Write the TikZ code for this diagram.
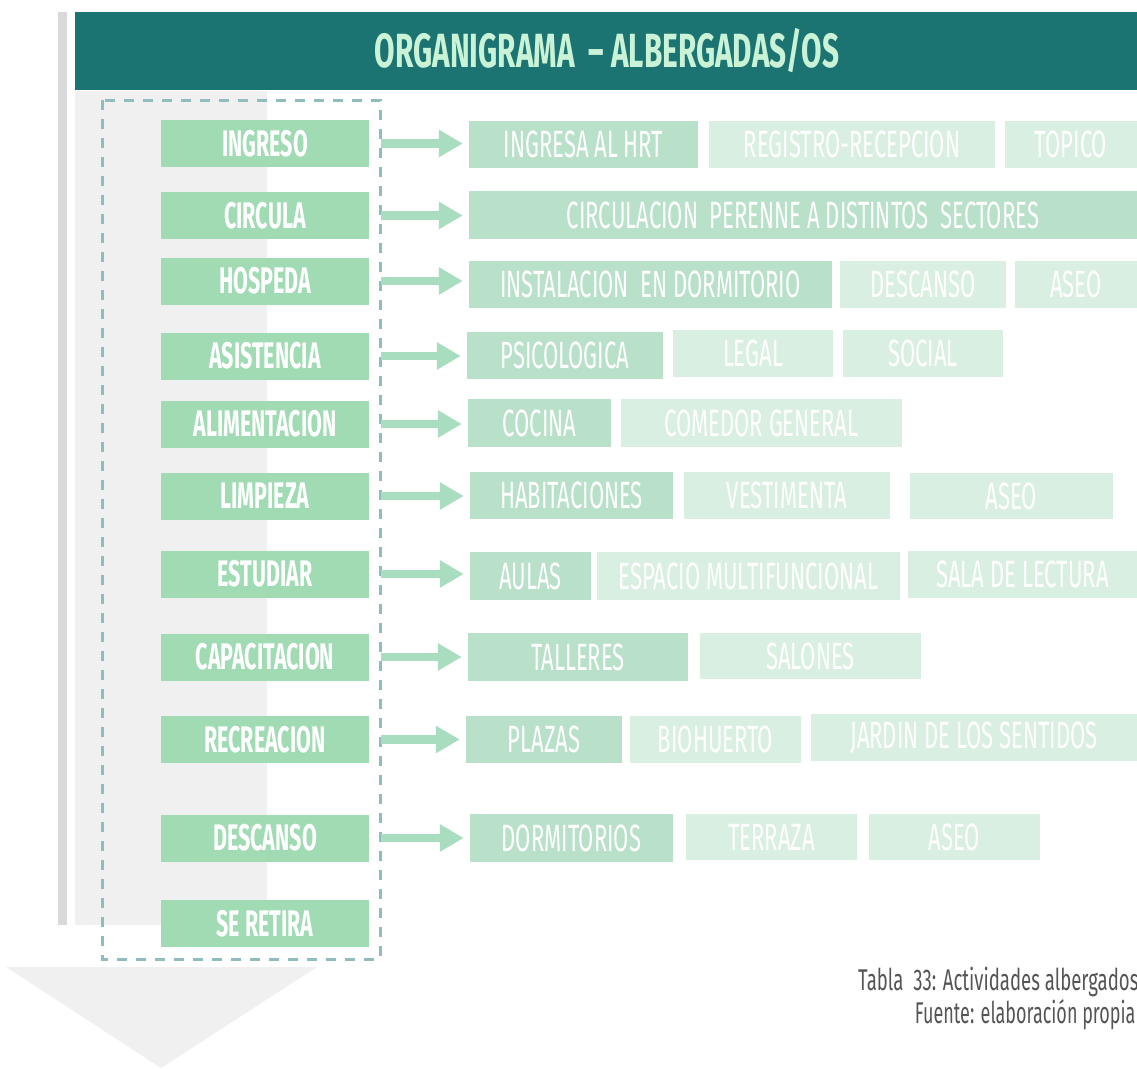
\documentclass[tikz,border=0pt]{standalone}
\usepackage{fontspec}
\setmainfont{Fira Sans}
\usepackage{graphicx}
\usepackage{xcolor}
\usetikzlibrary{arrows.meta}

\definecolor{cabecera}{HTML}{1C7472}
\definecolor{titulo}{HTML}{C9F2D7}
\definecolor{verdeact}{HTML}{A0DBB4}
\definecolor{verdeuno}{HTML}{B9E0C9}
\definecolor{verdedos}{HTML}{D9EFE1}
\definecolor{flechaverde}{HTML}{A9DDBF}
\definecolor{guion}{HTML}{8FBDBD}
\definecolor{barra}{HTML}{D9D9D9}
\definecolor{panel}{HTML}{F0F0F0}
\definecolor{leyenda}{HTML}{555555}

\newcommand{\cond}[1]{\scalebox{0.58}[1]{#1}}

\begin{document}
\begin{tikzpicture}[x=1pt, y=-1pt,
    actividad/.style={fill=verdeact, text=white, inner sep=0pt, minimum width=208pt, minimum height=47pt, font=\fontsize{37}{40}\selectfont\bfseries},
    principal/.style={fill=verdeuno, text=white, inner sep=0pt, minimum height=47pt, font=\fontsize{38}{42}\selectfont},
    secundaria/.style={principal, fill=verdedos},
    flecha/.style={draw=flechaverde, line width=8.5pt, -{Triangle[length=24pt, width=26pt]}}]
    \useasboundingbox (0,0) rectangle (1137,1068);

    % Fondo: barra, panel y cabecera
    \fill[barra] (58,12) rectangle (67,925);
    \fill[panel] (75,91) rectangle (267,925);
    \fill[cabecera] (75,12) rectangle (1137,90);
    \node[anchor=base, text=titulo, font=\fontsize{48}{52}\selectfont\bfseries] (titulo) at (607,67) {\scalebox{0.62}[1]{ORGANIGRAMA \ -- ALBERGADAS/OS}};
    \fill[panel] (6,967) -- (317,967) -- (161,1068) -- cycle;
    \draw[guion, line width=3pt, dash pattern=on 10pt off 9pt] (102,100) rectangle (380,959);

    % Actividades
    \foreach \nom/\y/\txt in {ingreso/143.5/INGRESO, circula/215.5/CIRCULA, hospeda/281/HOSPEDA, asistencia/356/ASISTENCIA, alimentacion/424/ALIMENTACION, limpieza/496/LIMPIEZA, estudiar/574/ESTUDIAR, capacitacion/657/CAPACITACION, recreacion/739.5/RECREACION, descanso/838/DESCANSO, retira/923.5/SE RETIRA}
        \node[actividad] (\nom) at (265,\y) {\cond{\txt}};

    % Espacios por actividad
    \node[principal, minimum width=229pt] (ingresa) at (583.5,144.5) {\cond{INGRESA AL HRT}};
    \node[secundaria, minimum width=286pt] (registro) at (852,144) {\cond{REGISTRO-RECEPCION}};
    \node[secundaria, minimum width=132pt] (topico) at (1071,144) {\cond{TOPICO}};

    \node[principal, minimum width=668pt, minimum height=48pt] (circulacion) at (803,215) {\cond{CIRCULACION\ \ PERENNE A DISTINTOS\ \ SECTORES}};

    \node[principal, minimum width=363pt] (instalacion) at (650.5,284.5) {\cond{INSTALACION\ \ EN DORMITORIO}};
    \node[secundaria, minimum width=166pt] (descansoh) at (923,284.5) {\cond{DESCANSO}};
    \node[secundaria, minimum width=122pt] (aseoh) at (1076,284.5) {\cond{ASEO}};

    \node[principal, minimum width=196pt] (psicologica) at (565,355.5) {\cond{PSICOLOGICA}};
    \node[secundaria, minimum width=160pt] (legal) at (753,353.5) {\cond{LEGAL}};
    \node[secundaria, minimum width=160pt] (social) at (923,353.5) {\cond{SOCIAL}};

    \node[principal, minimum width=143pt, minimum height=48pt] (cocina) at (539.5,423) {\cond{COCINA}};
    \node[secundaria, minimum width=281pt, minimum height=48pt] (comedor) at (761.5,423) {\cond{COMEDOR GENERAL}};

    \node[principal, minimum width=203pt] (habitaciones) at (571.5,495.5) {\cond{HABITACIONES}};
    \node[secundaria, minimum width=206pt] (vestimenta) at (787,495.5) {\cond{VESTIMENTA}};
    \node[secundaria, minimum width=203pt, minimum height=46pt] (aseol) at (1011.5,496) {\cond{ASEO}};

    \node[principal, minimum width=121pt, minimum height=48pt] (aulas) at (530.5,576) {\cond{AULAS}};
    \node[secundaria, minimum width=303pt, minimum height=48pt] (espacio) at (748.5,576) {\cond{ESPACIO MULTIFUNCIONAL}};
    \node[secundaria, minimum width=229pt] (sala) at (1022.5,574.5) {\cond{SALA DE LECTURA}};

    \node[principal, minimum width=220pt, minimum height=48pt] (talleres) at (578,657) {\cond{TALLERES}};
    \node[secundaria, minimum width=221pt, minimum height=46pt] (salones) at (810.5,656) {\cond{SALONES}};

    \node[principal, minimum width=156pt] (plazas) at (544,739.5) {\cond{PLAZAS}};
    \node[secundaria, minimum width=171pt] (biohuerto) at (715.5,739.5) {\cond{BIOHUERTO}};
    \node[secundaria, minimum width=326pt] (jardin) at (974,737.5) {\cond{JARDIN DE LOS SENTIDOS}};

    \node[principal, minimum width=203pt, minimum height=48pt] (dormitorios) at (571.5,838) {\cond{DORMITORIOS}};
    \node[secundaria, minimum width=171pt, minimum height=46pt] (terraza) at (771.5,837) {\cond{TERRAZA}};
    \node[secundaria, minimum width=171pt, minimum height=46pt] (aseod) at (954.5,837) {\cond{ASEO}};

    % Flechas
    \foreach \a/\b in {ingreso/ingresa, circula/circulacion, hospeda/instalacion, asistencia/psicologica, alimentacion/cocina, limpieza/habitaciones, estudiar/aulas, capacitacion/talleres, recreacion/plazas, descanso/dormitorios}
        \draw[flecha] ([xshift=12pt]\a.east) -- ([xshift=-6pt]\a.east -| \b.west);

    % Leyenda
    \node[anchor=base east, text=leyenda, font=\fontsize{30}{34}\selectfont] (tabla) at (1142,990) {\scalebox{0.62}[1]{Tabla\ \ 33: Actividades albergados}};
    \node[anchor=base east, text=leyenda, font=\fontsize{30}{34}\selectfont] (fuente) at (1139,1023) {\scalebox{0.6}[1]{Fuente: elaboración propia}};
\end{tikzpicture}
\end{document}
